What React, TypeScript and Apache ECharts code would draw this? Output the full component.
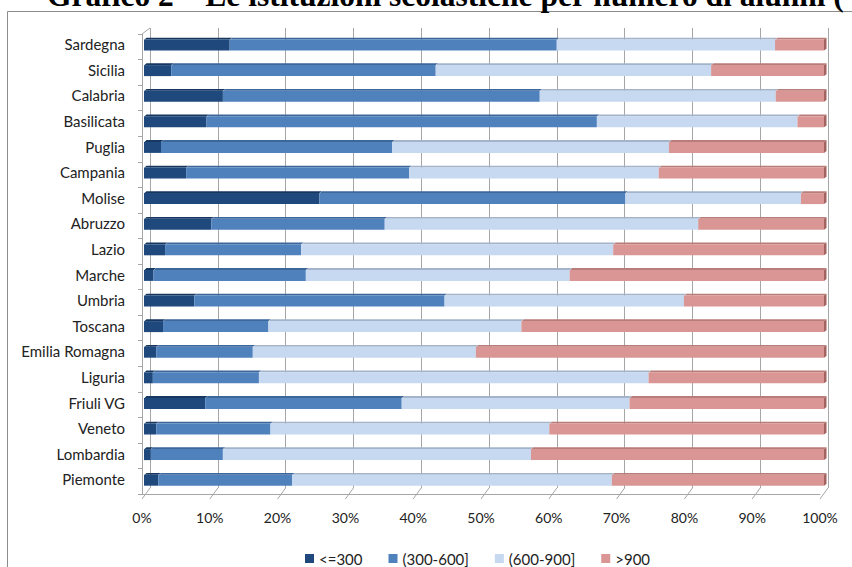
import React, { useEffect, useRef } from "react";
import * as echarts from "echarts";

// Regions, top to bottom
const regions = [
  "Sardegna", "Sicilia", "Calabria", "Basilicata", "Puglia", "Campania",
  "Molise", "Abruzzo", "Lazio", "Marche", "Umbria", "Toscana",
  "Emilia Romagna", "Liguria", "Friuli VG", "Veneto", "Lombardia", "Piemonte",
];

// Share (%) of schools in each size class
const upTo300 = [12.6, 4.0, 11.6, 9.2, 2.5, 6.2, 25.8, 9.9, 3.1, 1.4, 7.4, 2.8, 1.8, 1.3, 9.0, 1.8, 1.0, 2.1];
const from300to600 = [48.1, 38.9, 46.6, 57.4, 34.0, 32.8, 45.0, 25.5, 20.0, 22.4, 36.8, 15.5, 14.2, 15.6, 28.9, 16.8, 10.6, 19.7];
const from600to900 = [32.1, 40.5, 34.7, 29.5, 40.7, 36.7, 25.8, 46.1, 45.9, 38.8, 35.2, 37.2, 32.8, 57.3, 33.5, 41.0, 45.3, 47.0];
const over900 = [7.2, 16.6, 7.1, 3.9, 22.8, 24.3, 3.4, 18.5, 31.0, 37.4, 20.6, 44.5, 51.2, 25.8, 28.6, 40.4, 43.1, 31.2];

const classNames = ["<=300", "(300-600]", "(600-900]", ">900"];
const percentTicks = [0, 10, 20, 30, 40, 50, 60, 70, 80, 90, 100];

const titleText = "Grafico 2 – Le istituzioni scolastiche per numero di alunni (";

const faceColors = ["#1F497D", "#4F81BD", "#C6D9F1", "#D99694"];
const topColors = ["#163760", "#3D6699", "#A3B4CA", "#B87C7A"];
const sideColor = "#A36361";

const labelFont = "Lato";
const textColor = "#222222";
const lineColor = "#A6A6A6";

export default function App() {
  const ref = useRef<HTMLDivElement>(null);

  useEffect(() => {
    document.body.style.margin = "0";
    if (!ref.current) return;
    const chart = echarts.init(ref.current, undefined, { renderer: "svg" });

    const classes = [upTo300, from300to600, from600to900, over900];
    const starts = regions.map(() => 0);

    const barSeries = classes.map((values, ci) => {
      const data = values.map((v, i) => {
        const s = starts[i];
        starts[i] = s + v;
        return [s, s + v, i];
      });
      const isLast = ci === classes.length - 1;
      return {
        name: classNames[ci],
        type: "custom",
        xAxisIndex: 0,
        yAxisIndex: 0,
        encode: { x: [0, 1], y: 2 },
        itemStyle: { color: faceColors[ci] },
        data,
        renderItem: (params: any, api: any) => {
          const cat = api.value(2);
          const a = api.coord([api.value(0), cat]);
          const b = api.coord([api.value(1), cat]);
          const h = 11;
          const dx = 2.5;
          const dy = 1.8;
          const top = a[1] - h / 2 + 0.8;
          const children: any[] = [
            {
              type: "polygon",
              shape: {
                points: [
                  [a[0] + 0.5, top],
                  [b[0], top],
                  [b[0] + dx, top - dy],
                  [a[0] + dx, top - dy],
                ],
              },
              style: { fill: topColors[ci] },
            },
            {
              type: "rect",
              shape: { x: a[0], y: top, width: b[0] - a[0], height: h },
              style: { fill: faceColors[ci] },
            },
          ];
          if (isLast) {
            children.push({
              type: "polygon",
              shape: {
                points: [
                  [b[0], top],
                  [b[0] + dx, top - dy],
                  [b[0] + dx, top + h - dy],
                  [b[0], top + h],
                ],
              },
              style: { fill: sideColor },
            });
          }
          return { type: "group", children };
        },
      };
    });

    // Slanted floor ticks and the top edge of the side wall
    const floorSeries = {
      name: "floor",
      type: "custom",
      xAxisIndex: 2,
      yAxisIndex: 2,
      silent: true,
      encode: { x: 0 },
      data: percentTicks.map((v) => [v]),
      renderItem: (params: any, api: any) => {
        const v = api.value(0);
        const cs = params.coordSys;
        const x = api.coord([v, 0])[0];
        const yb = cs.y + cs.height;
        const children: any[] = [
          {
            type: "line",
            shape: { x1: x, y1: yb + 5, x2: x + 8, y2: yb - 6 },
            style: { stroke: lineColor, lineWidth: 1 },
          },
        ];
        if (v === 0) {
          children.push({
            type: "line",
            shape: { x1: x, y1: cs.y, x2: x + 8, y2: cs.y - 6 },
            style: { stroke: lineColor, lineWidth: 1 },
          });
        }
        return { type: "group", children };
      },
    };

    chart.setOption({
      animation: false,
      backgroundColor: "#ffffff",
      grid: [
        { left: 144, top: 31.4, width: 680, height: 460.8 },
        { left: 150, top: 28, width: 678, height: 460 },
        { left: 142, top: 34, width: 678, height: 460 },
      ],
      xAxis: [
        { gridIndex: 0, type: "value", min: 0, max: 100, show: false },
        {
          gridIndex: 1,
          type: "value",
          min: 0,
          max: 100,
          interval: 10,
          axisLine: { show: false },
          axisTick: { show: false },
          axisLabel: { show: false },
          splitLine: { show: true, lineStyle: { color: lineColor, width: 1 } },
        },
        {
          gridIndex: 2,
          type: "value",
          min: 0,
          max: 100,
          interval: 10,
          axisLine: { show: true, lineStyle: { color: lineColor } },
          axisTick: { show: false },
          splitLine: { show: false },
          axisLabel: {
            formatter: "{value}%",
            fontFamily: labelFont,
            fontSize: 14,
            color: textColor,
            margin: 16,
          },
        },
      ],
      yAxis: [
        {
          gridIndex: 0,
          type: "category",
          data: regions,
          inverse: true,
          axisLine: { show: false },
          axisTick: { show: false },
          axisLabel: {
            fontFamily: labelFont,
            fontSize: 15,
            color: textColor,
            margin: 19,
          },
        },
        { gridIndex: 1, type: "value", show: false },
        {
          gridIndex: 2,
          type: "category",
          data: regions,
          inverse: true,
          axisLine: { show: true, lineStyle: { color: lineColor } },
          axisTick: { show: true, length: 4, lineStyle: { color: lineColor } },
          axisLabel: { show: false },
        },
      ],
      legend: {
        data: classNames,
        left: 300,
        top: 546,
        icon: "rect",
        itemWidth: 9,
        itemHeight: 9,
        itemGap: 26,
        textStyle: { fontFamily: labelFont, fontSize: 15, color: textColor },
      },
      graphic: [
        {
          type: "rect",
          shape: { x: 7.5, y: 11.5, width: 900, height: 600 },
          style: { fill: "none", stroke: "#8C8C8C", lineWidth: 1 },
          silent: true,
        },
        {
          type: "text",
          x: 47,
          y: -5,
          style: {
            text: titleText,
            font: 'bold 31.5px "Liberation Serif"',
            fill: "#000000",
            verticalAlign: "middle",
            align: "left",
          },
          silent: true,
        },
      ],
      series: [...barSeries, floorSeries],
    });

    return () => chart.dispose();
  }, []);

  return <div ref={ref} style={{ width: 852, height: 567 }} />;
}
